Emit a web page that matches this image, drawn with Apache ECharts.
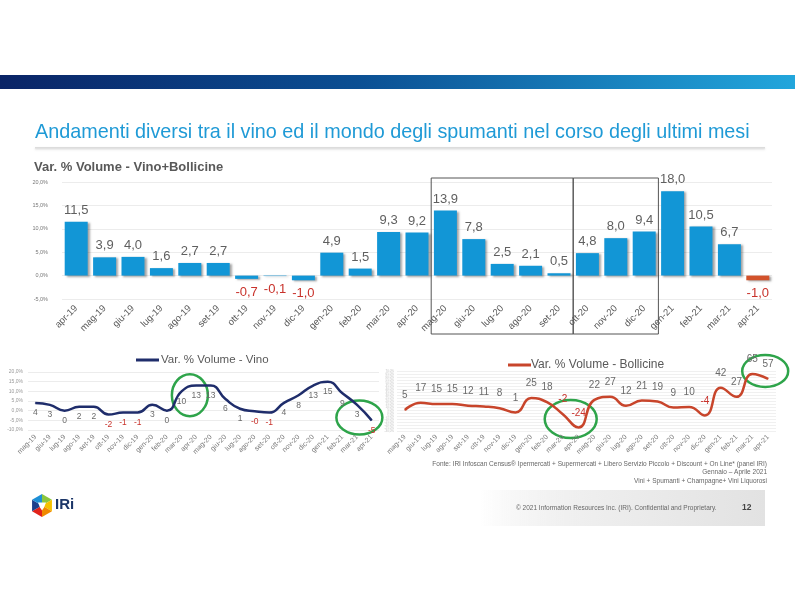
<!DOCTYPE html>
<html><head><meta charset="utf-8">
<script src="https://cdn.jsdelivr.net/npm/echarts@6/dist/echarts.min.js"></script>
<style>html,body{margin:0;padding:0;background:#fff}#c{width:800px;height:600px}</style>
</head><body><div id="c"></div>
<script>
// ---- data ----
const topCategories = ['apr-19','mag-19','giu-19','lug-19','ago-19','set-19','ott-19','nov-19','dic-19','gen-20','feb-20','mar-20','apr-20','mag-20','giu-20','lug-20','ago-20','set-20','ott-20','nov-20','dic-20','gen-21','feb-21','mar-21','apr-21'];
const vinoBollicine = [11.5,3.9,4.0,1.6,2.7,2.7,-0.7,-0.1,-1.0,4.9,1.5,9.3,9.2,13.9,7.8,2.5,2.1,0.5,4.8,8.0,9.4,18.0,10.5,6.7,-1.0];
const lineCategories = ['mag-19','giu-19','lug-19','ago-19','set-19','ott-19','nov-19','dic-19','gen-20','feb-20','mar-20','apr-20','mag-20','giu-20','lug-20','ago-20','set-20','ott-20','nov-20','dic-20','gen-21','feb-21','mar-21','apr-21'];
const vino = [4,3,0,2,2,-2,-1,-1,3,0,10,13,13,6,1,-0.3,-1,4,8,13,15,9,3,-5];
const bollicine = [5,17,15,15,12,11,8,1,25,18,-2,-24,22,27,12,21,19,9,10,-4,42,27,65,57];
const topTicks = {min:-5, max:20, step:5};
const vinoTicks = {min:-10, max:20, step:5};
const bollTicks = {min:-30, max:70, step:5};
const boxes = [['mag-20','set-20'],['ott-20','dic-20']];
const titleText = 'Andamenti diversi tra il vino ed il mondo degli spumanti nel corso degli ultimi mesi';
const chartTitle = 'Var. % Volume - Vino+Bollicine';
const vinoName = 'Var. % Volume - Vino';
const bollName = 'Var. % Volume - Bollicine';
const footnotes = ['Fonte: IRI Infoscan Census\u00ae Ipermercati + Supermercati + Libero Servizio Piccolo + Discount + On Line* (panel IRI)','Gennaio \u2013 Aprile 2021','Vini + Spumanti + Champagne+ Vini Liquorosi'];
const copyright = '\u00a9 2021 Information Resources Inc. (IRI). Confidential and Proprietary.';
const pageNo = '12';

// ---- styles ----
const FONT = 'Liberation Sans, Arial, sans-serif';
const BLUE = '#1296d6', ORANGE = '#d2522b', NEG = '#c8322b', GRAY = '#595959';
const NAVY = '#1f2d6b', BOLL = '#c8452b', GREEN = '#2ea44a';
const pct = v => v.toFixed(1).replace('.', ',') + '%';

const chart = echarts.init(document.getElementById('c'), null, {renderer:'canvas'});

const barData = vinoBollicine.map((v, i) => ({
  value: v,
  itemStyle: i === vinoBollicine.length - 1 ? {color: ORANGE} : undefined,
  label: {position: v < 0 ? 'bottom' : 'top', color: v < 0 ? NEG : '#5f5f5f', distance: v < 0 ? 7 : 5}
}));
const lineData = arr => arr.map(v => ({value: v, label: {color: v < 0 ? NEG : '#6a6a6a'}}));

const gridLine = {show:true, lineStyle:{color:'#ececec', width:1}};
const option = {
  animation: false,
  textStyle: {fontFamily: FONT},
  grid: [
    {left:62, top:182, width:710, height:117},
    {left:28, top:372, width:351, height:58},
    {left:397, top:371, width:379, height:60}
  ],
  xAxis: [
    {gridIndex:0, type:'category', data: topCategories, axisLine:{show:false}, axisTick:{show:false},
     axisLabel:{interval:0, rotate:45, fontSize:9.5, color:GRAY, margin:8}},
    {gridIndex:1, type:'category', data: lineCategories, axisLine:{show:false}, axisTick:{show:false},
     axisLabel:{interval:0, rotate:45, fontSize:7, color:'#777', margin:6}},
    {gridIndex:2, type:'category', data: lineCategories, axisLine:{show:false}, axisTick:{show:false},
     axisLabel:{interval:0, rotate:45, fontSize:7, color:'#777', margin:5}}
  ],
  yAxis: [
    {gridIndex:0, type:'value', min:topTicks.min, max:topTicks.max, interval:topTicks.step,
     splitLine:gridLine, axisLabel:{formatter:pct, fontSize:5.5, color:'#777', margin:14}},
    {gridIndex:1, type:'value', min:vinoTicks.min, max:vinoTicks.max, interval:vinoTicks.step,
     splitLine:gridLine, axisLabel:{formatter:pct, fontSize:5, color:'#999', margin:5}},
    {gridIndex:2, type:'value', min:bollTicks.min, max:bollTicks.max, interval:bollTicks.step,
     splitLine:{show:true, lineStyle:{color:'#f0f0f0', width:1}}, axisLabel:{formatter:pct, fontSize:3, color:'#c4c4c4', margin:3}}
  ],
  legend: [
    {data:[vinoName], left:131, top:349, icon:'rect', itemWidth:23, itemHeight:3, itemGap:2,
     textStyle:{fontSize:11.5, color:GRAY, padding:[0,0,0,-3]}},
    {data:[bollName], left:503, top:354, icon:'rect', itemWidth:23, itemHeight:3,
     textStyle:{fontSize:12, color:GRAY, padding:[0,0,0,-5]}}
  ],
  series: [
    {type:'bar', xAxisIndex:0, yAxisIndex:0, data: barData, barWidth:'81%',
     itemStyle:{color:BLUE, shadowColor:'rgba(0,0,0,0.35)', shadowBlur:2, shadowOffsetX:2, shadowOffsetY:1},
     label:{show:true, fontSize:13, formatter: p => p.value.toFixed(1).replace('.', ',')}},
    {type:'line', name:vinoName, xAxisIndex:1, yAxisIndex:1, data: lineData(vino), smooth:true,
     symbol:'circle', symbolSize:1, itemStyle:{color:NAVY}, lineStyle:{color:NAVY, width:2.5},
     label:{show:true, position:'bottom', distance:5, fontSize:8.5, formatter: p => p.value.toFixed(0)}},
    {type:'line', name:bollName, xAxisIndex:2, yAxisIndex:2, data: lineData(bollicine), smooth:true,
     symbol:'circle', symbolSize:1, itemStyle:{color:BOLL}, lineStyle:{color:BOLL, width:2.5},
     label:{show:true, position:'top', distance:9, fontSize:10, formatter: p => p.value.toFixed(0)}}
  ]
};
chart.setOption(option);

// ---- annotations positioned from the axes ----
const px = (gi, cat, val) => chart.convertToPixel({gridIndex: gi}, [cat, val]);
const band = px(0, 1, 0)[0] - px(0, 0, 0)[0];
const gTop = px(0, 0, topTicks.max)[1], gBot = px(0, 0, topTicks.min)[1];
const graphics = [];

// banner
graphics.push({type:'rect', shape:{x:0, y:75, width:795, height:14}, silent:true,
  style:{fill:new echarts.graphic.LinearGradient(0,0,1,0,[{offset:0,color:'#0a2466'},{offset:0.45,color:'#0b4f93'},{offset:1,color:'#22a6dc'}])}});
graphics.push({type:'text', x:35, y:133, style:{text:titleText, fill:'#1f9ad6', font:'19.8px ' + FONT, textVerticalAlign:'middle'}});
graphics.push({type:'rect', shape:{x:35, y:147, width:730, height:1.5}, style:{fill:'#dcdcdc', shadowColor:'rgba(0,0,0,0.15)', shadowBlur:2, shadowOffsetY:1}});
graphics.push({type:'text', x:34, y:167, style:{text:chartTitle, fill:GRAY, font:'bold 13px ' + FONT, textVerticalAlign:'middle'}});

boxes.forEach(([a, b]) => {
  const x1 = px(0, a, 0)[0] - band / 2, x2 = px(0, b, 0)[0] + band / 2;
  graphics.push({type:'rect', shape:{x:x1, y:gTop - 4, width:x2 - x1, height:(gBot + 35) - (gTop - 4)},
    style:{fill:'none', stroke:'#555', lineWidth:1}});
});

// green highlight ellipses
const ell = (gi, i, val, rx, ry, dx) => {
  const c1 = px(gi, i, val), c2 = px(gi, i + 1, val);
  graphics.push({type:'ellipse', shape:{cx:(c1[0] + c2[0]) / 2 + (dx || 0), cy:c1[1], rx:rx, ry:ry},
    style:{fill:'none', stroke:GREEN, lineWidth:2.5}});
};
ell(1, 10, 8, 18, 21, 1);
ell(1, 22, -3.5, 23, 17, -5);
ell(2, 10, -10, 26, 19, 0);
ell(2, 22, 70, 23, 16, 5);

// footnotes
footnotes.forEach((t, i) => graphics.push({type:'text', x:767, y:464 + i * 8.7,
  style:{text:t, fill:'#666', font:'6.5px ' + FONT, textAlign:'right', textVerticalAlign:'middle'}}));

// footer
graphics.push({type:'rect', shape:{x:480, y:490, width:285, height:36},
  style:{fill:new echarts.graphic.LinearGradient(0,0,1,0,[{offset:0,color:'rgba(230,230,230,0)'},{offset:0.35,color:'#efefef'},{offset:1,color:'#e2e2e2'}])}});
graphics.push({type:'text', x:516, y:508, style:{text:copyright, fill:'#666', font:'6.5px ' + FONT, textVerticalAlign:'middle'}});
graphics.push({type:'text', x:742, y:508, style:{text:pageNo, fill:'#444', font:'bold 8.5px ' + FONT, textVerticalAlign:'middle'}});

// logo
const cx = 42, cy = 505.5, r = 11.5;
const hexCols = ['#8cc63f','#f5c200','#f08a00','#e2231a','#1d3f8c','#1d8fd6'];
for (let k = 0; k < 6; k++) {
  const a1 = (-90 + k * 60) * Math.PI / 180, a2 = (-30 + k * 60) * Math.PI / 180;
  graphics.push({type:'polygon', shape:{points:[[cx, cy],[cx + r * Math.cos(a1), cy + r * Math.sin(a1)],[cx + r * Math.cos(a2), cy + r * Math.sin(a2)]]},
    style:{fill:hexCols[k]}});
}
graphics.push({type:'polygon', shape:{points:[[cx - 4, cy - 3],[cx + 4, cy - 3],[cx + 2, cy + 2],[cx, cy + 5],[cx - 2, cy + 2]]}, style:{fill:'#fff'}});
graphics.push({type:'text', x:55, y:505, style:{text:'IRi', fill:'#1b3668', font:'bold 15px ' + FONT, textVerticalAlign:'middle'}});

chart.setOption({graphic: graphics});
</script></body></html>
